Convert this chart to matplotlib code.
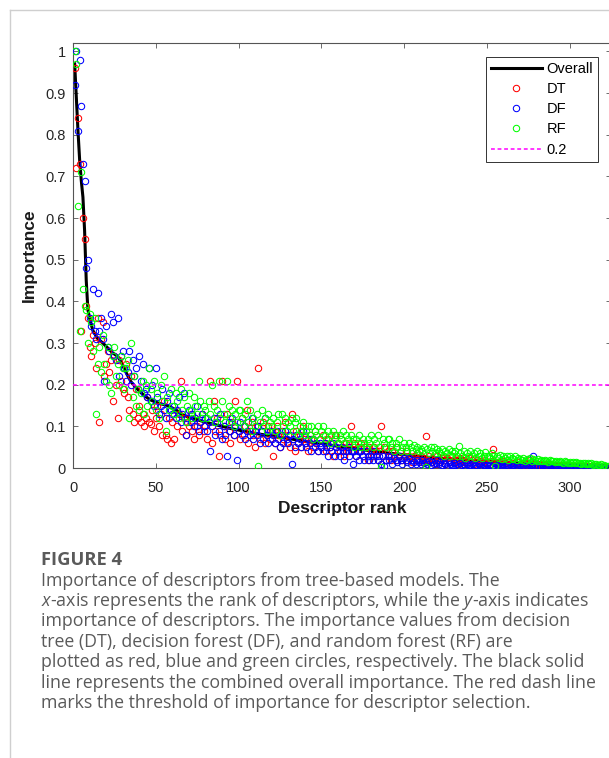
import numpy as np
import matplotlib.pyplot as plt
from matplotlib.lines import Line2D

# overall importance curve (rank, value)
overall_rank = [1, 2, 3, 4, 5, 6, 7, 8, 9, 10, 11, 12, 15, 18, 21, 24, 27, 29, 31, 33,
                35, 38, 41, 44, 47, 52, 57, 62, 66, 70, 75, 80, 85, 90, 95, 100, 110, 120,
                130, 140, 150, 160, 170, 180, 190, 200, 210, 220, 230, 240, 250, 260,
                270, 280, 290, 300, 310, 323]
overall = [0.97, 0.89, 0.81, 0.74, 0.69, 0.65, 0.57, 0.45, 0.38, 0.36, 0.345, 0.33, 0.31,
           0.30, 0.288, 0.276, 0.268, 0.255, 0.238, 0.222, 0.207, 0.193, 0.181, 0.171,
           0.163, 0.155, 0.150, 0.140, 0.128, 0.122, 0.116, 0.110, 0.105, 0.100, 0.095,
           0.091, 0.083, 0.077, 0.071, 0.064, 0.059, 0.052, 0.047, 0.041, 0.036, 0.032,
           0.027, 0.024, 0.021, 0.018, 0.016, 0.014, 0.012, 0.010, 0.008, 0.007, 0.005,
           0.003]

# decision tree
dt = [0.96, 0.72, 0.84, 0.73, 0.33, 0.60, 0.55, 0.39, 0.36, 0.29,
      0.27, 0.32, 0.30, 0.24, 0.36, 0.11, 0.31, 0.35, 0.22, 0.25,
      0.28, 0.23, 0.26, 0.16, 0.27, 0.20, 0.12, 0.26, 0.21, 0.19,
      0.18, 0.25, 0.17, 0.14, 0.22, 0.13, 0.11, 0.19, 0.12, 0.15,
      0.11, 0.13, 0.10, 0.12, 0.17, 0.11, 0.105, 0.14, 0.09, 0.12,
      0.15, 0.10, 0.13, 0.08, 0.16, 0.08, 0.07, 0.12, 0.06, 0.11,
      0.07, 0.14, 0.10, 0.13, 0.21, 0.09, 0.12, 0.08, 0.11, 0.10,
      0.13, 0.09, 0.07, 0.12, 0.10, 0.08, 0.11, 0.13, 0.09, 0.10,
      0.07, 0.11, 0.21, 0.06, 0.16, 0.09, 0.12, 0.03, 0.08, 0.21,
      0.10, 0.07, 0.13, 0.09, 0.06, 0.11, 0.08, 0.16, 0.21, 0.09,
      0.07, 0.12, 0.08, 0.10, 0.14, 0.06, 0.09, 0.11, 0.08, 0.05,
      0.10, 0.24, 0.07, 0.09, 0.11, 0.06, 0.08, 0.10, 0.07, 0.09,
      0.03, 0.06, 0.10, 0.08, 0.05, 0.09, 0.07, 0.11, 0.06, 0.08,
      0.05, 0.13, 0.07, 0.04, 0.09, 0.06, 0.08, 0.05, 0.10, 0.07,
      0.06, 0.04, 0.08, 0.07, 0.05, 0.09, 0.06, 0.04, 0.07, 0.05,
      0.08, 0.06, 0.04, 0.07, 0.05, 0.06, 0.03, 0.08, 0.05, 0.06,
      0.04, 0.07, 0.05, 0.03, 0.06, 0.04, 0.05, 0.10, 0.04, 0.06,
      0.03, 0.05, 0.04, 0.06, 0.03, 0.05, 0.04, 0.02, 0.05, 0.04,
      0.03, 0.05, 0.04, 0.02, 0.04, 0.10, 0.03, 0.05, 0.02, 0.04,
      0.03, 0.02, 0.04, 0.03, 0.05, 0.02, 0.03, 0.04, 0.02, 0.03,
      0.04, 0.02, 0.03, 0.025, 0.015, 0.03, 0.02, 0.035, 0.02, 0.03,
      0.015, 0.025, 0.077, 0.02, 0.03, 0.015, 0.025, 0.02, 0.01, 0.03,
      0.02, 0.015, 0.025, 0.02, 0.01, 0.025, 0.02, 0.015, 0.03, 0.02,
      0.015, 0.02, 0.01, 0.025, 0.02, 0.015, 0.02, 0.01, 0.025, 0.015,
      0.02, 0.01, 0.015, 0.02, 0.012, 0.018, 0.01, 0.015, 0.02, 0.012,
      0.015, 0.01, 0.018, 0.046, 0.012, 0.015, 0.008, 0.014, 0.01, 0.016,
      0.012, 0.008, 0.015, 0.01, 0.013, 0.006, 0.012, 0.01, 0.014, 0.008,
      0.01, 0.012, 0.007, 0.011, 0.009, 0.02, 0.008, 0.01, 0.006, 0.009,
      0.01, 0.007, 0.009, 0.006, 0.01, 0.008, 0.005, 0.009, 0.007, 0.008,
      0.006, 0.008, 0.005, 0.007, 0.006, 0.008, 0.004, 0.006, 0.007, 0.005,
      0.006, 0.004, 0.005, 0.006, 0.004, 0.005, 0.003, 0.005, 0.004, 0.003,
      0.004, 0.003, 0.004, 0.002, 0.003, 0.004, 0.002, 0.003, 0.002, 0.003,
      0.002, 0.001, 0.002]

# decision forest
df = [0.92, 1.00, 0.81, 0.98, 0.87, 0.73, 0.69, 0.48, 0.50, 0.36,
      0.34, 0.43, 0.33, 0.31, 0.42, 0.33, 0.36, 0.31, 0.21, 0.34,
      0.29, 0.28, 0.37, 0.35, 0.27, 0.26, 0.36, 0.22, 0.27, 0.28,
      0.24, 0.21, 0.23, 0.28, 0.20, 0.26, 0.22, 0.24, 0.19, 0.27,
      0.21, 0.25, 0.18, 0.19, 0.17, 0.24, 0.16, 0.20, 0.15, 0.24,
      0.17, 0.13, 0.15, 0.19, 0.14, 0.12, 0.16, 0.18, 0.14, 0.13,
      0.15, 0.12, 0.14, 0.17, 0.11, 0.13, 0.18, 0.08, 0.12, 0.14,
      0.11, 0.13, 0.10, 0.12, 0.15, 0.09, 0.11, 0.13, 0.10, 0.12,
      0.09, 0.11, 0.04, 0.10, 0.12, 0.08, 0.11, 0.09, 0.13, 0.07,
      0.10, 0.08, 0.03, 0.11, 0.09, 0.12, 0.08, 0.10, 0.02, 0.09,
      0.11, 0.08, 0.10, 0.07, 0.09, 0.11, 0.08, 0.12, 0.07, 0.09,
      0.08, 0.10, 0.06, 0.09, 0.07, 0.12, 0.08, 0.06, 0.09, 0.07,
      0.08, 0.06, 0.09, 0.07, 0.05, 0.08, 0.06, 0.09, 0.07, 0.06,
      0.08, 0.01, 0.07, 0.05, 0.08, 0.06, 0.07, 0.05, 0.09, 0.06,
      0.05, 0.07, 0.06, 0.04, 0.07, 0.05, 0.06, 0.04, 0.06, 0.05,
      0.04, 0.06, 0.05, 0.03, 0.05, 0.04, 0.06, 0.03, 0.05, 0.04,
      0.03, 0.05, 0.04, 0.02, 0.04, 0.05, 0.03, 0.04, 0.01, 0.04,
      0.03, 0.04, 0.02, 0.04, 0.03, 0.02, 0.04, 0.03, 0.02, 0.03,
      0.02, 0.04, 0.03, 0.02, 0.03, 0.01, 0.03, 0.005, 0.02, 0.03,
      0.02, 0.03, 0.01, 0.025, 0.02, 0.015, 0.03, 0.02, 0.01, 0.025,
      0.02, 0.015, 0.025, 0.01, 0.02, 0.015, 0.01, 0.02, 0.015, 0.01,
      0.02, 0.012, 0.015, 0.01, 0.018, 0.008, 0.015, 0.01, 0.012, 0.02,
      0.01, 0.015, 0.008, 0.012, 0.01, 0.006, 0.014, 0.01, 0.008, 0.012,
      0.008, 0.01, 0.005, 0.012, 0.008, 0.01, 0.006, 0.009, 0.004, 0.008,
      0.01, 0.006, 0.008, 0.004, 0.009, 0.006, 0.003, 0.008, 0.005, 0.007,
      0.005, 0.007, 0.004, 0.006, 0.003, 0.007, 0.005, 0.004, 0.006, 0.003,
      0.005, 0.004, 0.006, 0.003, 0.005, 0.004, 0.002, 0.005, 0.003, 0.004,
      0.003, 0.005, 0.002, 0.004, 0.003, 0.005, 0.004, 0.028, 0.003, 0.002,
      0.004, 0.003, 0.002, 0.004, 0.003, 0.002, 0.003, 0.001, 0.003, 0.002,
      0.003, 0.002, 0.001, 0.003, 0.002, 0.002, 0.001, 0.003, 0.002, 0.001,
      0.002, 0.001, 0.002, 0.002, 0.001, 0.002, 0.001, 0.001, 0.002, 0.001,
      0.001, 0.002, 0.001, 0.001, 0.002, 0.001, 0.001, 0.001, 0.002, 0.001,
      0.001, 0.001, 0.0]

# random forest
rf = [1.00, 0.97, 0.63, 0.33, 0.71, 0.43, 0.39, 0.38, 0.30, 0.37,
      0.35, 0.28, 0.36, 0.13, 0.25, 0.29, 0.23, 0.32, 0.25, 0.21,
      0.29, 0.20, 0.18, 0.27, 0.29, 0.22, 0.25, 0.20, 0.27, 0.24,
      0.19, 0.24, 0.26, 0.12, 0.30, 0.17, 0.22, 0.15, 0.19, 0.14,
      0.18, 0.21, 0.13, 0.20, 0.15, 0.24, 0.19, 0.16, 0.21, 0.14,
      0.18, 0.12, 0.20, 0.16, 0.22, 0.09, 0.17, 0.14, 0.19, 0.15,
      0.13, 0.18, 0.16, 0.12, 0.19, 0.14, 0.17, 0.11, 0.15, 0.18,
      0.14, 0.12, 0.17, 0.15, 0.13, 0.21, 0.16, 0.12, 0.15, 0.14,
      0.12, 0.16, 0.13, 0.20, 0.15, 0.11, 0.14, 0.21, 0.12, 0.16,
      0.13, 0.11, 0.21, 0.15, 0.12, 0.14, 0.10, 0.13, 0.11, 0.14,
      0.14, 0.12, 0.10, 0.13, 0.16, 0.11, 0.14, 0.09, 0.12, 0.10,
      0.13, 0.005, 0.11, 0.14, 0.10, 0.12, 0.09, 0.13, 0.11, 0.10,
      0.12, 0.09, 0.11, 0.13, 0.08, 0.13, 0.10, 0.12, 0.09, 0.11,
      0.10, 0.12, 0.09, 0.11, 0.12, 0.08, 0.10, 0.09, 0.11, 0.08,
      0.09, 0.10, 0.08, 0.10, 0.07, 0.09, 0.08, 0.10, 0.07, 0.09,
      0.10, 0.08, 0.07, 0.09, 0.06, 0.08, 0.09, 0.07, 0.08, 0.06,
      0.08, 0.07, 0.09, 0.06, 0.08, 0.07, 0.06, 0.08, 0.07, 0.05,
      0.07, 0.06, 0.08, 0.05, 0.07, 0.06, 0.05, 0.07, 0.06, 0.08,
      0.05, 0.07, 0.06, 0.08, 0.05, 0.003, 0.07, 0.06, 0.05, 0.07,
      0.07, 0.05, 0.06, 0.04, 0.06, 0.05, 0.07, 0.04, 0.05, 0.06,
      0.05, 0.04, 0.06, 0.05, 0.04, 0.055, 0.045, 0.05, 0.04, 0.045,
      0.04, 0.05, 0.003, 0.045, 0.035, 0.05, 0.04, 0.051, 0.035, 0.045,
      0.04, 0.035, 0.045, 0.03, 0.04, 0.035, 0.045, 0.03, 0.04, 0.035,
      0.04, 0.03, 0.054, 0.035, 0.03, 0.04, 0.025, 0.035, 0.03, 0.04,
      0.03, 0.035, 0.025, 0.04, 0.03, 0.035, 0.025, 0.03, 0.038, 0.028,
      0.03, 0.025, 0.035, 0.028, 0.004, 0.03, 0.025, 0.032, 0.022, 0.028,
      0.025, 0.03, 0.02, 0.028, 0.025, 0.022, 0.03, 0.02, 0.025, 0.022,
      0.02, 0.025, 0.018, 0.022, 0.02, 0.025, 0.018, 0.022, 0.02, 0.018,
      0.022, 0.018, 0.02, 0.016, 0.02, 0.018, 0.015, 0.019, 0.016, 0.018,
      0.015, 0.018, 0.014, 0.017, 0.015, 0.013, 0.016, 0.014, 0.012, 0.015,
      0.013, 0.015, 0.012, 0.014, 0.011, 0.013, 0.01, 0.012, 0.011, 0.01,
      0.012, 0.009, 0.011, 0.008, 0.01, 0.009, 0.007, 0.008, 0.009, 0.006,
      0.007, 0.005, 0.006]

threshold = 0.2
xticks = [0, 50, 100, 150, 200, 250, 300]
yticks = [0, 0.1, 0.2, 0.3, 0.4, 0.5, 0.6, 0.7, 0.8, 0.9, 1]
ytick_labels = ['0', '0.1', '0.2', '0.3', '0.4', '0.5', '0.6', '0.7', '0.8', '0.9', '1']

caption_title = 'FIGURE 4'
caption_lines = [
    'Importance of descriptors from tree-based models. The',
    '$x$-axis represents the rank of descriptors, while the $y$-axis indicates',
    'importance of descriptors. The importance values from decision',
    'tree (DT), decision forest (DF), and random forest (RF) are',
    'plotted as red, blue and green circles, respectively. The black solid',
    'line represents the combined overall importance. The red dash line',
    'marks the threshold of importance for descriptor selection.',
]

plt.rcParams['font.family'] = 'Liberation Sans'
plt.rcParams['mathtext.fontset'] = 'custom'
plt.rcParams['mathtext.it'] = 'Open Sans:italic'
plt.rcParams['mathtext.rm'] = 'Open Sans'

W, H = 609, 758
fig = plt.figure(figsize=(W / 100, H / 100), dpi=100)

# panel frame
fig.add_artist(Line2D([10 / W, 1], [1 - 10 / H, 1 - 10 / H], color='#cfcfcf', lw=1))
fig.add_artist(Line2D([10 / W, 10 / W], [0, 1 - 10 / H], color='#cfcfcf', lw=1))

ax = fig.add_axes([73 / W, 1 - 468 / H, (611 - 73) / W, (468 - 43) / H])

ax.plot(overall_rank, overall, color='black', lw=2.2, label='Overall', zorder=2)
mk = dict(ls='none', marker='o', ms=4.6, mfc='none', mew=0.75, zorder=3)
ax.plot(np.arange(1, len(dt) + 1), dt, mec='#ff0000', label='DT', **mk)
ax.plot(np.arange(1, len(df) + 1), df, mec='#0000ff', label='DF', **mk)
ax.plot(np.arange(1, len(rf) + 1), rf, mec='#00ff00', label='RF', **mk)
ax.axhline(threshold, color='#ff00ff', ls=(0, (2.5, 1.8)), lw=1.1, label='0.2', zorder=4)

ax.set_xlim(0, 325)
ax.set_ylim(0, 1.02)
ax.set_xticks(xticks)
ax.set_yticks(yticks)
ax.set_yticklabels(ytick_labels)
ax.tick_params(direction='in', length=3.6, width=0.6, top=True, right=True,
               labelsize=10.5, colors='#555555', labelcolor='#262626')
ax.tick_params(axis='x', pad=9)
ax.tick_params(axis='y', pad=5)
for s in ax.spines.values():
    s.set_color('#555555')
    s.set_linewidth(0.8)

ax.set_xlabel('Descriptor rank', fontsize=12.5, fontweight='bold', color='#1a1a1a')
ax.set_ylabel('Importance', fontsize=12.5, fontweight='bold', color='#1a1a1a')
ax.xaxis.set_label_coords(0.5, -0.078)
ax.yaxis.set_label_coords(-0.068, 0.5)

leg = ax.legend(loc='upper right', bbox_to_anchor=(598 / W, 1 - 57 / H),
                bbox_transform=fig.transFigure, fontsize=10.5, frameon=True,
                fancybox=False, framealpha=1, edgecolor='#333333',
                handlelength=3.5, handletextpad=0.3, labelspacing=0.42,
                borderpad=0.35, borderaxespad=0)
leg.get_frame().set_linewidth(0.7)

fig.text(41 / W, 1 - 560 / H, caption_title, fontsize=13.2, fontweight='bold',
         family='Open Sans', color='#5a5a5a', va='center')
for i, line in enumerate(caption_lines):
    fig.text(41 / W, 1 - (580.5 + i * 20.4) / H, line, fontsize=12.8,
             family='Open Sans', color='#5a5a5a', va='center')

fig.savefig('out.png', dpi=100)
